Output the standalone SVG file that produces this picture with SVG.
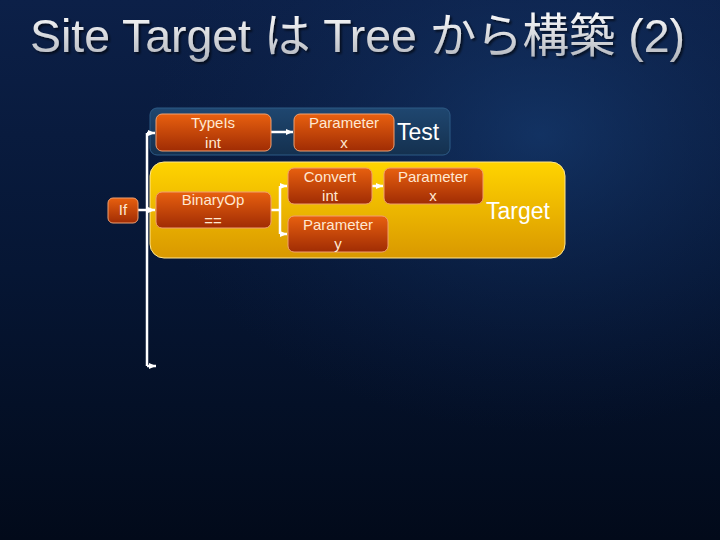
<svg xmlns="http://www.w3.org/2000/svg" width="720" height="540" viewBox="0 0 720 540">
<defs>
<linearGradient id="bg" x1="0" y1="0" x2="0" y2="1">
<stop offset="0" stop-color="#0c2048"/>
<stop offset="0.5" stop-color="#061634"/>
<stop offset="1" stop-color="#020a1a"/>
</linearGradient>
<radialGradient id="glow" cx="0.75" cy="0.25" r="0.55">
<stop offset="0" stop-color="#1a4580" stop-opacity="0.55"/>
<stop offset="1" stop-color="#0f2550" stop-opacity="0"/>
</radialGradient>
<linearGradient id="title" x1="0" y1="0" x2="0" y2="1">
<stop offset="0" stop-color="#ffffff"/>
<stop offset="1" stop-color="#b0b4bc"/>
</linearGradient>
<linearGradient id="node" x1="0" y1="0" x2="0" y2="1">
<stop offset="0" stop-color="#e8600f"/>
<stop offset="1" stop-color="#a02c04"/>
</linearGradient>
<linearGradient id="yel" x1="0" y1="0" x2="0" y2="1">
<stop offset="0" stop-color="#ffd400"/>
<stop offset="1" stop-color="#d99800"/>
</linearGradient>
<linearGradient id="blu" x1="0" y1="0" x2="0" y2="1">
<stop offset="0" stop-color="#1f4770"/>
<stop offset="1" stop-color="#14304f"/>
</linearGradient>
<filter id="sh" x="-5%" y="-20%" width="110%" height="140%">
<feDropShadow dx="2" dy="2" stdDeviation="1" flood-color="#000" flood-opacity="0.6"/>
</filter>
<marker id="ah" markerWidth="8" markerHeight="8" refX="7" refY="4" orient="auto" markerUnits="userSpaceOnUse">
<path d="M0,1 L7,4 L0,7 Z" fill="#ffffff"/>
</marker>
</defs>
<style>
.n{fill:url(#node);stroke:#f0a070;stroke-width:1}
.t{font-family:"Liberation Sans",Arial,sans-serif;font-size:15px;fill:#ffe8d2;text-anchor:middle}
.big{font-family:"Liberation Sans",Arial,sans-serif;font-size:23px;fill:#ffffff}
.c{fill:none;stroke:#ffffff;stroke-width:2.5}
</style>
<rect width="720" height="540" fill="url(#bg)"/>
<rect width="720" height="540" fill="url(#glow)"/>
<text x="30" y="52" font-family="'Liberation Sans','Noto Sans CJK JP',sans-serif" font-size="47" fill="url(#title)" filter="url(#sh)" textLength="655" lengthAdjust="spacingAndGlyphs">Site Target は Tree から構築 (2)</text>

<g id="test-panel">
<rect x="150" y="108" width="300" height="47" rx="7" fill="url(#blu)" stroke="#2d5a85" stroke-width="1"/>
<text class="big" x="397" y="140">Test</text>
</g>
<g id="target-panel">
<rect x="150" y="162" width="415" height="96" rx="14" fill="url(#yel)" stroke="#ffe690" stroke-width="1"/>
<text class="big" x="486" y="219">Target</text>
</g>

<g id="connectors">
<path class="c" d="M147,133 V366"/>
<path class="c" d="M147,133 H155" marker-end="url(#ah)"/>
<path class="c" d="M147,366 H156" marker-end="url(#ah)"/>
<path class="c" d="M138,210 H155" marker-end="url(#ah)"/>
<path class="c" d="M271,132 H293" marker-end="url(#ah)"/>
<path class="c" d="M271,210 H280"/>
<path class="c" d="M280,186 V234"/>
<path class="c" d="M280,186 H287" marker-end="url(#ah)"/>
<path class="c" d="M280,234 H287" marker-end="url(#ah)"/>
<path class="c" d="M372,186 H383" marker-end="url(#ah)"/>
</g>

<g id="typeis">
<rect class="n" x="156" y="114" width="115" height="37" rx="6"/>
<text class="t" x="213" y="128">TypeIs</text>
<text class="t" x="213" y="148">int</text>
</g>
<g id="param-x-test">
<rect class="n" x="294" y="114" width="100" height="37" rx="6"/>
<text class="t" x="344" y="128">Parameter</text>
<text class="t" x="344" y="148">x</text>
</g>
<g id="if">
<rect class="n" x="108" y="198" width="30" height="25" rx="5"/>
<text class="t" x="123" y="215">If</text>
</g>
<g id="binaryop">
<rect class="n" x="156" y="192" width="115" height="36" rx="6"/>
<text class="t" x="213" y="205">BinaryOp</text>
<text class="t" x="213" y="226">==</text>
</g>
<g id="convert">
<rect class="n" x="288" y="168" width="84" height="36" rx="6"/>
<text class="t" x="330" y="182">Convert</text>
<text class="t" x="330" y="201">int</text>
</g>
<g id="param-x-target">
<rect class="n" x="384" y="168" width="99" height="36" rx="6"/>
<text class="t" x="433" y="182">Parameter</text>
<text class="t" x="433" y="201">x</text>
</g>
<g id="param-y">
<rect class="n" x="288" y="216" width="100" height="36" rx="6"/>
<text class="t" x="338" y="230">Parameter</text>
<text class="t" x="338" y="249">y</text>
</g>
</svg>
